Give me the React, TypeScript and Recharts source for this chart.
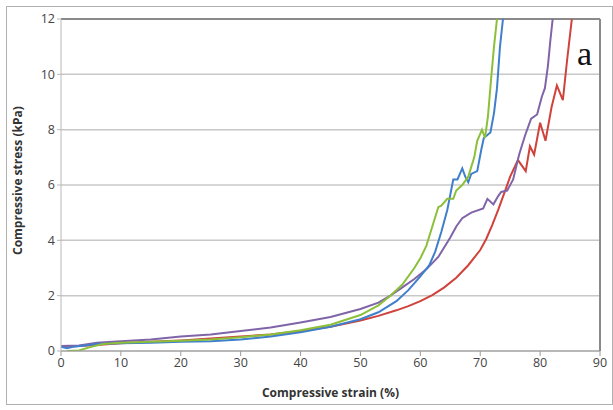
import { LineChart, Line, XAxis, YAxis, CartesianGrid, ReferenceLine } from 'recharts'

const xTicks = [0, 10, 20, 30, 40, 50, 60, 70, 80, 90]
const yTicks = [0, 2, 4, 6, 8, 10, 12]

// strain (%) / stress (kPa) pairs
const green = [
    { x: 1, y: 0.0 }, { x: 3, y: 0.02 }, { x: 5, y: 0.15 }, { x: 7, y: 0.25 }, { x: 10, y: 0.3 },
    { x: 15, y: 0.33 }, { x: 20, y: 0.37 }, { x: 25, y: 0.42 }, { x: 30, y: 0.5 }, { x: 35, y: 0.6 },
    { x: 40, y: 0.75 }, { x: 45, y: 0.95 }, { x: 50, y: 1.3 }, { x: 53, y: 1.65 }, { x: 55, y: 2.0 },
    { x: 57, y: 2.4 }, { x: 59, y: 3.0 }, { x: 60, y: 3.35 }, { x: 61, y: 3.8 }, { x: 62, y: 4.5 }, { x: 63, y: 5.2 },
    { x: 63.5, y: 5.25 }, { x: 64.5, y: 5.5 }, { x: 65.5, y: 5.5 }, { x: 66, y: 5.8 }, { x: 67, y: 6.0 },
    { x: 68, y: 6.3 }, { x: 69, y: 7.0 }, { x: 69.5, y: 7.6 }, { x: 70.3, y: 8.0 }, { x: 70.8, y: 7.7 },
    { x: 71.3, y: 8.5 }, { x: 71.8, y: 9.8 }, { x: 72.3, y: 11 }, { x: 72.8, y: 12 },
]

const blue = [
    { x: 0, y: 0.15 }, { x: 1, y: 0.1 }, { x: 2, y: 0.15 }, { x: 4, y: 0.2 }, { x: 6, y: 0.25 },
    { x: 10, y: 0.28 }, { x: 15, y: 0.3 }, { x: 20, y: 0.33 }, { x: 25, y: 0.35 }, { x: 30, y: 0.42 },
    { x: 35, y: 0.52 }, { x: 40, y: 0.68 }, { x: 45, y: 0.88 }, { x: 50, y: 1.15 }, { x: 53, y: 1.4 },
    { x: 56, y: 1.8 }, { x: 58, y: 2.2 }, { x: 60, y: 2.7 }, { x: 61.5, y: 3.1 }, { x: 62.5, y: 3.6 },
    { x: 63.5, y: 4.3 }, { x: 64.5, y: 5.1 }, { x: 65.5, y: 6.2 }, { x: 66.2, y: 6.2 }, { x: 67, y: 6.6 },
    { x: 67.5, y: 6.3 }, { x: 68, y: 6.1 }, { x: 68.5, y: 6.4 }, { x: 69.5, y: 6.5 }, { x: 70.2, y: 7.3 },
    { x: 70.6, y: 7.7 }, { x: 71.7, y: 7.9 }, { x: 72.3, y: 8.6 }, { x: 72.8, y: 9.5 }, { x: 73.3, y: 11 },
    { x: 73.8, y: 12 },
]

const purple = [
    { x: 0, y: 0.18 }, { x: 3, y: 0.2 }, { x: 6, y: 0.3 }, { x: 10, y: 0.35 }, { x: 15, y: 0.42 },
    { x: 20, y: 0.52 }, { x: 25, y: 0.6 }, { x: 30, y: 0.72 }, { x: 35, y: 0.85 }, { x: 40, y: 1.03 },
    { x: 45, y: 1.23 }, { x: 50, y: 1.52 }, { x: 53, y: 1.75 }, { x: 55, y: 2.0 }, { x: 57, y: 2.3 },
    { x: 59, y: 2.6 }, { x: 61, y: 2.95 }, { x: 63, y: 3.4 }, { x: 65, y: 4.1 }, { x: 66, y: 4.5 },
    { x: 67, y: 4.8 }, { x: 68.5, y: 5.0 }, { x: 70.5, y: 5.15 }, { x: 71.2, y: 5.5 }, { x: 72.2, y: 5.3 },
    { x: 73, y: 5.6 }, { x: 73.5, y: 5.75 }, { x: 74.5, y: 5.8 }, { x: 75.5, y: 6.2 }, { x: 76.5, y: 7.1 },
    { x: 77.5, y: 7.8 }, { x: 78.5, y: 8.4 }, { x: 79.5, y: 8.55 }, { x: 80.3, y: 9.2 }, { x: 80.8, y: 9.5 },
    { x: 81.3, y: 10.3 }, { x: 81.7, y: 11.2 }, { x: 82.1, y: 12 },
]

const red = [
    { x: 0, y: 0.15 }, { x: 3, y: 0.18 }, { x: 6, y: 0.22 }, { x: 10, y: 0.28 }, { x: 15, y: 0.33 },
    { x: 20, y: 0.38 }, { x: 25, y: 0.45 }, { x: 30, y: 0.52 }, { x: 35, y: 0.6 }, { x: 40, y: 0.72 },
    { x: 45, y: 0.88 }, { x: 50, y: 1.1 }, { x: 53, y: 1.27 }, { x: 56, y: 1.47 }, { x: 58, y: 1.62 },
    { x: 60, y: 1.8 }, { x: 62, y: 2.02 }, { x: 64, y: 2.3 }, { x: 66, y: 2.65 }, { x: 68, y: 3.1 },
    { x: 70, y: 3.65 }, { x: 71, y: 4.05 }, { x: 72, y: 4.55 }, { x: 73, y: 5.1 }, { x: 74, y: 5.7 },
    { x: 75, y: 6.3 }, { x: 76.3, y: 6.9 }, { x: 77.6, y: 6.5 }, { x: 78.3, y: 7.4 }, { x: 79, y: 7.1 },
    { x: 80, y: 8.25 }, { x: 80.9, y: 7.6 }, { x: 81.9, y: 8.8 }, { x: 82.8, y: 9.6 }, { x: 83.8, y: 9.07 },
    { x: 84.5, y: 10.5 }, { x: 85.3, y: 12 },
]

const series = [
    { name: 'red', color: '#d0423c', data: red },
    { name: 'purple', color: '#8064a8', data: purple },
    { name: 'blue', color: '#3f7fcc', data: blue },
    { name: 'green', color: '#8cbf3a', data: green },
]

const tickStyle = { fill: '#444', fontSize: 12.5, fontFamily: 'Open Sans' }

export default function App() {
    return (
        <div style={{ position: 'absolute', left: 0, top: 0, width: 613, height: 410, background: '#fff' }}>
            <div style={{ position: 'absolute', left: 6, top: 6, width: 605, height: 397, border: '1px solid #b0b0b0' }} />
            <LineChart width={613} height={410} margin={{ top: 19, right: 13, left: 0, bottom: 29 }}>
                <CartesianGrid vertical={false} stroke="#c8c8c8" strokeWidth={1.5} />
                <XAxis
                    type="number"
                    dataKey="x"
                    domain={[0, 90]}
                    ticks={xTicks}
                    height={30}
                    stroke="#9a9a9a"
                    tickSize={5}
                    tick={tickStyle}
                    label={{ value: 'Compressive strain (%)', position: 'insideBottom', offset: -16, fill: '#333', fontSize: 12, fontWeight: 700, fontFamily: 'Open Sans' }}
                />
                <YAxis
                    type="number"
                    dataKey="y"
                    domain={[0, 12]}
                    ticks={yTicks}
                    width={61}
                    allowDataOverflow
                    stroke="#b8b8b8"
                    tickSize={4}
                    tick={tickStyle}
                    label={{ value: 'Compressive stress (kPa)', angle: -90, position: 'insideLeft', offset: 18, dy: 70, fill: '#333', fontSize: 12, fontWeight: 700, fontFamily: 'Open Sans' }}
                />
                <ReferenceLine y={12} stroke="#8a8a8a" strokeWidth={2} />
                <ReferenceLine x={90} stroke="#8a8a8a" strokeWidth={2} />
                {series.map(s => (
                    <Line
                        key={s.name}
                        data={s.data}
                        dataKey="y"
                        type="linear"
                        stroke={s.color}
                        strokeWidth={2}
                        dot={false}
                        isAnimationActive={false}
                    />
                ))}
            </LineChart>
            <div style={{ position: 'absolute', left: 577, top: 35, fontFamily: 'Liberation Serif', fontSize: 34, color: '#111' }}>a</div>
        </div>
    )
}
